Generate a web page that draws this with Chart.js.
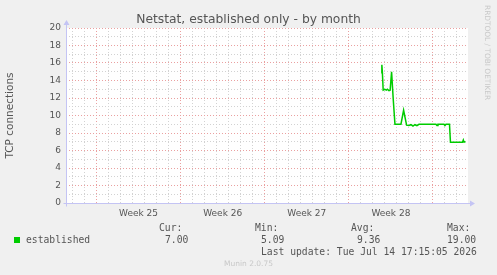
<!DOCTYPE html>
<html>
<head>
<meta charset="utf-8">
<script src="https://cdn.jsdelivr.net/npm/chart.js@4"></script>
<style>
  body { margin: 0; background: #f0f0f0; }
  #wrap { position: relative; width: 497px; height: 275px; overflow: hidden; }
  canvas { position: absolute; left: 0; top: 0; }
  .t { position: absolute; white-space: pre; line-height: 1; }
  .mono { font-family: 'DejaVu Sans Mono', monospace; font-size: 9.7px; color: #555; }
</style>
</head>
<body>
<div id="wrap">
  <canvas id="netstat" width="497" height="275"></canvas>
  <div class="t" id="title" style="left:0;width:497px;text-align:center;top:13px;font-family:'DejaVu Sans';font-size:12.3px;color:#555;">Netstat, established only - by month</div>
  <div class="t" style="left:484px;top:5px;font-family:'DejaVu Sans';font-size:7.4px;color:#c8c8c8;writing-mode:vertical-rl;">RRDTOOL / TOBI OETIKER</div>
  <div class="t" style="left:14px;top:237px;width:6px;height:6px;background:#00cc00;"></div>
  <div class="t mono" style="left:26px;top:235px;">established</div>
  <div class="t mono" style="left:159px;top:223px;">Cur:</div>
  <div class="t mono" style="left:165px;top:235px;">7.00</div>
  <div class="t mono" style="left:255px;top:223px;">Min:</div>
  <div class="t mono" style="left:261px;top:235px;">5.09</div>
  <div class="t mono" style="left:351px;top:223px;">Avg:</div>
  <div class="t mono" style="left:357px;top:235px;">9.36</div>
  <div class="t mono" style="left:447px;top:223px;">Max:</div>
  <div class="t mono" style="left:447px;top:235px;">19.00</div>
  <div class="t mono" style="left:261px;top:247px;">Last update: Tue Jul 14 17:15:05 2026</div>
  <div class="t" style="left:0;width:497px;text-align:center;top:260px;font-family:'DejaVu Sans';font-size:7.5px;color:#c8c8c8;">Munin 2.0.75</div>
</div>
<script>
// time in days from the left edge of the month window
const xMax = 33.46;
const sampleDays = [26.23, 26.29, 26.33, 26.40, 26.54, 26.67, 26.75, 26.88, 26.98, 27.10, 27.23, 27.38, 27.88, 28.10, 28.35, 28.54, 28.71, 28.88, 29.04, 29.21, 29.38, 30.79, 30.88, 30.96, 31.46, 31.54, 31.63, 31.92, 32.00, 33.00, 33.07, 33.13, 33.25];
const established = [14.9, 15.8, 15.0, 12.9, 13.0, 12.9, 13.0, 12.85, 12.9, 15.0, 12.0, 9.0, 9.0, 10.6, 8.9, 8.85, 8.95, 8.8, 8.95, 8.85, 9.0, 9.0, 8.85, 9.0, 9.0, 8.85, 9.0, 9.0, 6.95, 6.95, 7.2, 6.95, 7.0];

const firstDayLine = 0.54;
const weekStarts = [2.54, 9.54, 16.54, 23.54, 30.54];
const weekLabels = ['Week 25', 'Week 26', 'Week 27', 'Week 28'];
const yTicks = [0, 2, 4, 6, 8, 10, 12, 14, 16, 18, 20];

const near = (a, b) => Math.abs(a - b) < 0.01;
const labelAt = v => {
    const i = weekStarts.findIndex(w => near(w + 3.5, v));
    return i >= 0 && i < weekLabels.length ? weekLabels[i] : null;
};

const minorGrid = '#d2d2d2';
const majorGrid = '#eaa0a0';
const axisColor = '#c4c4f4';

const plotBg = {
    id: 'plotBg',
    beforeDraw(chart) {
        const a = chart.chartArea, c = chart.ctx;
        c.save();
        c.fillStyle = '#ffffff';
        c.fillRect(a.left, a.top, a.right - a.left, a.bottom - a.top);
        c.restore();
    }
};

const axisArrows = {
    id: 'axisArrows',
    afterDraw(chart) {
        const a = chart.chartArea, c = chart.ctx;
        const l = Math.round(a.left) + 0.5, b = Math.round(a.bottom) + 0.5;
        c.save();
        c.strokeStyle = axisColor;
        c.fillStyle = axisColor;
        c.lineWidth = 1;
        c.beginPath();
        c.moveTo(l - 3, b); c.lineTo(a.right + 3, b);
        c.moveTo(l, b + 3); c.lineTo(l, a.top - 4);
        c.stroke();
        c.beginPath();
        c.moveTo(a.right + 7, b); c.lineTo(a.right + 2, b - 3); c.lineTo(a.right + 2, b + 3); c.closePath();
        c.moveTo(l, a.top - 8); c.lineTo(l - 3, a.top - 3); c.lineTo(l + 3, a.top - 3); c.closePath();
        c.fill();
        c.restore();
    }
};

new Chart(document.getElementById('netstat'), {
    type: 'line',
    data: {
        datasets: [{
            label: 'established',
            data: sampleDays.map((d, i) => ({ x: d, y: established[i] })),
            borderColor: '#00cc00',
            borderWidth: 1.5,
            pointRadius: 0,
            tension: 0,
            fill: false
        }]
    },
    options: {
        responsive: false,
        animation: false,
        devicePixelRatio: 1,
        layout: { padding: { left: 0, right: 29, top: 28, bottom: 0 } },
        plugins: {
            legend: { display: false },
            tooltip: { enabled: false }
        },
        scales: {
            x: {
                type: 'linear',
                min: 0,
                max: xMax,
                afterBuildTicks(scale) {
                    const ticks = [];
                    for (let d = firstDayLine; d <= xMax; d += 1) ticks.push({ value: +d.toFixed(2) });
                    weekLabels.forEach((w, i) => ticks.push({ value: +(weekStarts[i] + 3.5).toFixed(2) }));
                    ticks.sort((p, q) => p.value - q.value);
                    scale.ticks = ticks;
                },
                afterFit(scale) { scale.height = 72; },
                grid: {
                    drawTicks: false,
                    color: ctx => {
                        const v = ctx.tick ? ctx.tick.value : null;
                        if (v === null || labelAt(v)) return 'rgba(0,0,0,0)';
                        return weekStarts.some(w => near(w, v)) ? majorGrid : minorGrid;
                    }
                },
                border: { display: false, dash: [1, 2] },
                ticks: {
                    autoSkip: false,
                    maxRotation: 0,
                    padding: 5,
                    color: '#555',
                    font: { family: 'DejaVu Sans', size: 9 },
                    callback: v => labelAt(v) || ''
                }
            },
            y: {
                min: 0,
                max: 20,
                afterBuildTicks(scale) {
                    const ticks = [];
                    for (let v = 0; v <= 20; v++) ticks.push({ value: v });
                    scale.ticks = ticks;
                },
                afterFit(scale) { scale.width = 66; },
                grid: {
                    drawTicks: false,
                    color: ctx => {
                        const v = ctx.tick ? ctx.tick.value : null;
                        if (v === null || v === 0) return 'rgba(0,0,0,0)';
                        return yTicks.includes(v) ? majorGrid : minorGrid;
                    }
                },
                border: { display: false, dash: [1, 2] },
                ticks: {
                    autoSkip: false,
                    padding: 5,
                    color: '#555',
                    font: { family: 'DejaVu Sans', size: 9 },
                    callback: v => yTicks.includes(v) ? String(v) : ''
                },
                title: {
                    display: true,
                    text: 'TCP connections',
                    color: '#555',
                    font: { family: 'DejaVu Sans', size: 10.5 },
                    padding: { top: 4, bottom: 0 }
                }
            }
        }
    },
    plugins: [plotBg, axisArrows]
});
</script>
</body>
</html>
